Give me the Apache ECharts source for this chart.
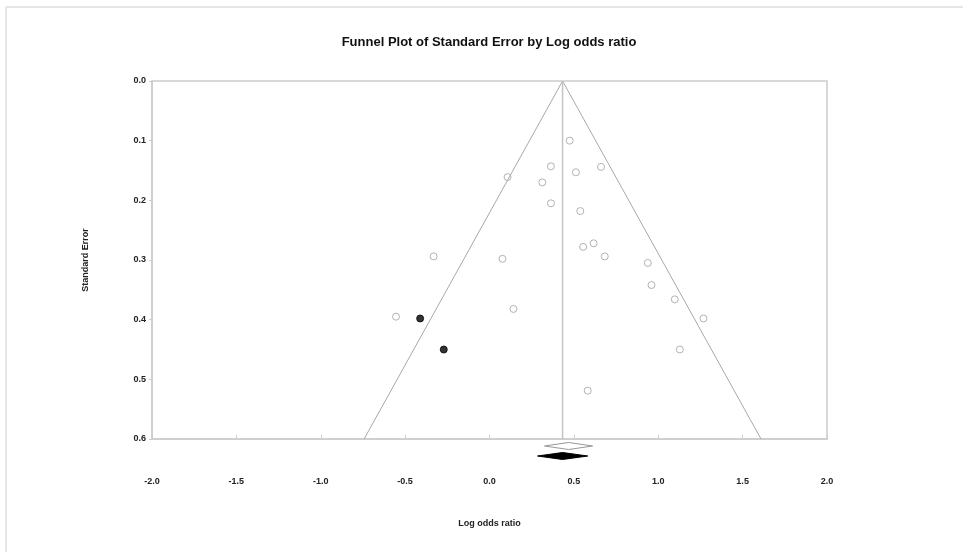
<!DOCTYPE html>
<html>
<head>
<meta charset="utf-8">
<script src="https://cdn.jsdelivr.net/npm/echarts@6/dist/echarts.min.js"></script>
<style>
html,body{margin:0;padding:0;background:#fff;}
#chart{width:963px;height:552px;}
</style>
</head>
<body>
<div id="chart"></div>
<script>
// Observed studies: [log odds ratio, standard error]
const observedStudies = [
  [0.475, 0.100], [0.364, 0.143], [0.661, 0.144], [0.107, 0.161],
  [0.512, 0.153], [0.313, 0.170], [0.364, 0.205], [0.538, 0.218],
  [0.617, 0.272], [0.555, 0.278], [0.683, 0.294], [-0.331, 0.294],
  [0.077, 0.298], [0.938, 0.305], [0.960, 0.342], [1.098, 0.366],
  [-0.554, 0.395], [0.142, 0.382], [1.268, 0.398], [1.128, 0.450],
  [0.582, 0.519]
];
// Imputed studies (trim and fill)
const imputedStudies = [[-0.411, 0.398], [-0.271, 0.450]];
// Funnel centre
const pooledEstimate = 0.433;
const maxSE = 0.6;
// Summary diamonds: [estimate, lower, upper, row]
const observedDiamond = [0.469, 0.326, 0.611, 0];
const imputedDiamond = [0.433, 0.285, 0.582, 1];
const xTicks = { min: -2, max: 2, step: 0.5 };
const yTicks = { min: 0, max: 0.6, step: 0.1 };

const funnel = [
  [pooledEstimate - 1.96 * maxSE, maxSE],
  [pooledEstimate, 0],
  [pooledEstimate + 1.96 * maxSE, maxSE]
];
const centreLine = [[pooledEstimate, 0], [pooledEstimate, maxSE]];

const FONT = '"Liberation Sans", Arial, sans-serif';

function diamondRender(fill, stroke) {
  return function (params, api) {
    const est = api.value(0), lo = api.value(1), hi = api.value(2), row = api.value(3);
    const base = api.coord([est, maxSE])[1];
    const cy = base + 7 + row * 10;
    const xl = api.coord([lo, maxSE])[0];
    const xh = api.coord([hi, maxSE])[0];
    const xc = api.coord([est, maxSE])[0];
    return {
      type: 'polygon',
      shape: { points: [[xl, cy], [xc, cy - 3.5], [xh, cy], [xc, cy + 3.5]] },
      style: { fill: fill, stroke: stroke, lineWidth: 1 }
    };
  };
}

const chart = echarts.init(document.getElementById('chart'), null, { renderer: 'canvas' });
chart.setOption({
  animation: false,
  backgroundColor: '#fff',
  grid: {
    left: 152, top: 81, width: 675, height: 358,
    show: true, borderColor: '#cccccc', borderWidth: 1.5, backgroundColor: 'transparent'
  },
  graphic: [
    { type: 'line', shape: { x1: 6, y1: 7, x2: 963, y2: 7 }, style: { stroke: '#dddddd', lineWidth: 1.5 } },
    { type: 'line', shape: { x1: 6, y1: 7, x2: 6, y2: 552 }, style: { stroke: '#dddddd', lineWidth: 1.5 } },
    {
      type: 'text', x: 489, y: 42,
      style: {
        text: 'Funnel Plot of Standard Error by Log odds ratio',
        font: 'bold 13px ' + FONT, fill: '#111', textAlign: 'center', textVerticalAlign: 'middle'
      }
    }
  ],
  xAxis: {
    type: 'value', min: xTicks.min, max: xTicks.max, interval: xTicks.step,
    name: 'Log odds ratio', nameLocation: 'middle', nameGap: 80,
    nameTextStyle: { fontFamily: FONT, fontWeight: 'bold', fontSize: 9, color: '#222' },
    axisLine: { show: true, onZero: false, lineStyle: { color: '#cccccc', width: 1.5 } },
    axisTick: { show: true, inside: true, length: 4, lineStyle: { color: '#cccccc' } },
    axisLabel: {
      margin: 38, fontFamily: FONT, fontWeight: 'bold', fontSize: 9, color: '#222',
      formatter: v => v.toFixed(1)
    },
    splitLine: { show: false }
  },
  yAxis: {
    type: 'value', inverse: true, min: yTicks.min, max: yTicks.max, interval: yTicks.step,
    name: 'Standard Error', nameLocation: 'middle', nameGap: 62, nameRotate: 90,
    nameTextStyle: { fontFamily: FONT, fontWeight: 'bold', fontSize: 9, color: '#222' },
    axisLine: { show: true, onZero: false, lineStyle: { color: '#cccccc', width: 1.5 } },
    axisTick: { show: true, inside: false, length: 3, lineStyle: { color: '#cccccc' } },
    axisLabel: {
      margin: 6, fontFamily: FONT, fontWeight: 'bold', fontSize: 9, color: '#222',
      formatter: v => v.toFixed(1)
    },
    splitLine: { show: false }
  },
  series: [
    {
      type: 'line', data: funnel, symbol: 'none', silent: true,
      lineStyle: { color: '#a8a8a8', width: 1 }
    },
    {
      type: 'line', data: centreLine, symbol: 'none', silent: true,
      lineStyle: { color: '#c4c4c4', width: 1.5 }
    },
    {
      type: 'scatter', data: observedStudies, symbol: 'circle', symbolSize: 7,
      itemStyle: { color: '#ffffff', borderColor: '#a0a0a0', borderWidth: 1 }
    },
    {
      type: 'scatter', data: imputedStudies, symbol: 'circle', symbolSize: 7,
      itemStyle: { color: '#000000', borderColor: '#000000', borderWidth: 1 }
    },
    {
      type: 'custom', clip: false, data: [observedDiamond],
      renderItem: diamondRender('#ffffff', '#999999')
    },
    {
      type: 'custom', clip: false, data: [imputedDiamond],
      renderItem: diamondRender('#000000', '#000000')
    }
  ]
});
</script>
</body>
</html>
